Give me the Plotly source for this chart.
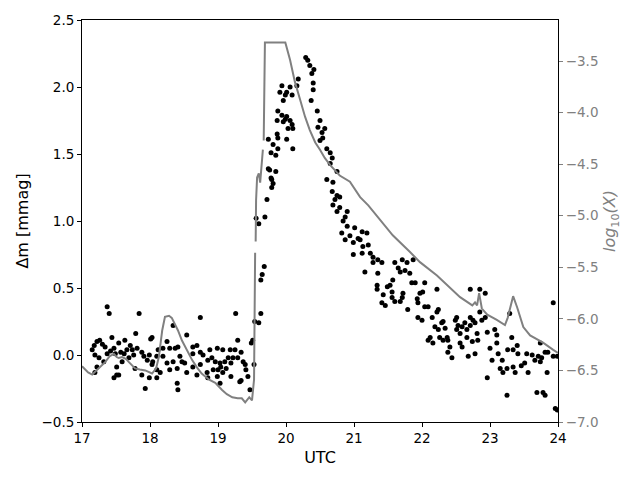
import plotly.graph_objects as go

# Photometric residuals (black dots), hours UTC vs delta magnitude in mmag
utc_hours = [
    # 17h - 18h
    17.15, 17.18, 17.19, 17.19, 17.22, 17.22, 17.25, 17.26, 17.30, 17.32,
    17.34, 17.37, 17.37, 17.40, 17.42, 17.44, 17.47, 17.47, 17.49, 17.51,
    17.51, 17.54, 17.54, 17.57, 17.59, 17.62, 17.63, 17.66, 17.69, 17.71,
    17.74, 17.76, 17.78, 17.79, 17.81, 17.84, 17.88, 17.88, 17.91, 17.93,
    17.96, 17.99, 17.99, 18.01, 18.03,
    # 18h - 19h
    18.03, 18.04, 18.10, 18.10, 18.10, 18.12, 18.15, 18.19, 18.19, 18.25,
    18.25, 18.29, 18.29, 18.34, 18.34, 18.37, 18.40, 18.40, 18.41, 18.41,
    18.44, 18.47, 18.51, 18.54, 18.54, 18.63, 18.63, 18.63, 18.69, 18.69,
    18.74, 18.74, 18.74, 18.78, 18.84, 18.85, 18.85, 18.88, 18.91, 18.93,
    18.96, 18.99, 18.99, 19.00, 19.03, 19.03,
    # 19h - 19.86h
    19.04, 19.07, 19.07, 19.10, 19.12, 19.15, 19.18, 19.19, 19.19, 19.22,
    19.25, 19.26, 19.29, 19.29, 19.32, 19.34, 19.34, 19.37, 19.40, 19.41,
    19.44, 19.47, 19.49, 19.51, 19.53, 19.54, 19.56, 19.60, 19.60, 19.63,
    19.63, 19.65, 19.68, 19.69, 19.72, 19.74, 19.74, 19.76, 19.78, 19.78,
    19.79, 19.79, 19.81, 19.81, 19.85, 19.85,
    # 19.87h - 21.06h
    19.87, 19.87, 19.88, 19.88, 19.88, 19.91, 19.94, 19.94, 19.96, 19.96,
    19.99, 19.99, 20.01, 20.01, 20.01, 20.03, 20.06, 20.06, 20.09, 20.09,
    20.10, 20.10, 20.16, 20.18, 20.29, 20.32, 20.35, 20.37, 20.38, 20.40,
    20.40, 20.41, 20.46, 20.47, 20.50, 20.50, 20.53, 20.54, 20.57, 20.60,
    20.60, 20.65, 20.65, 20.68, 20.68, 20.69, 20.69, 20.72, 20.75, 20.75,
    20.75, 20.79, 20.79, 20.82, 20.84, 20.87, 20.87, 20.90, 20.90, 20.94,
    20.99, 20.99, 21.01, 21.06,
    # 21.09h - 22.44h
    21.09, 21.12, 21.12, 21.13, 21.16, 21.19, 21.21, 21.24, 21.28, 21.28,
    21.34, 21.34, 21.35, 21.35, 21.41, 21.41, 21.43, 21.46, 21.49, 21.53,
    21.56, 21.56, 21.57, 21.60, 21.60, 21.65, 21.68, 21.68, 21.71, 21.71,
    21.72, 21.75, 21.78, 21.79, 21.82, 21.85, 21.87, 21.90, 21.93, 21.94,
    21.94, 21.97, 22.00, 22.01, 22.04, 22.04, 22.09, 22.09, 22.12, 22.15,
    22.16, 22.19, 22.22, 22.22, 22.24, 22.24, 22.26, 22.29, 22.31, 22.31,
    22.34, 22.37, 22.38, 22.38, 22.41, 22.44,
    # 22.49h - 24h
    22.49, 22.51, 22.51, 22.53, 22.56, 22.56, 22.59, 22.59, 22.63, 22.66,
    22.66, 22.68, 22.71, 22.71, 22.71, 22.74, 22.75, 22.78, 22.78, 22.81,
    22.82, 22.85, 22.85, 22.88, 22.93, 22.93, 22.96, 22.96, 23.00, 23.03,
    23.07, 23.10, 23.10, 23.12, 23.15, 23.18, 23.19, 23.25, 23.25, 23.26,
    23.29, 23.32, 23.34, 23.34, 23.37, 23.40, 23.41, 23.46, 23.51, 23.54,
    23.56, 23.62, 23.66, 23.69, 23.71, 23.74, 23.74, 23.76, 23.78, 23.81,
    23.81, 23.84, 23.85, 23.93, 23.93, 23.96, 23.99, 23.99,
]
delta_mmag = [
    # 17h - 18h
    0.04, 0.07, 0.00, -0.13, 0.10, -0.09, -0.02, 0.11, 0.08, -0.05,
    0.06, 0.36, 0.01, 0.31, 0.03, 0.13, 0.05, -0.17, 0.01, -0.09,
    -0.15, 0.09, -0.15, 0.02, -0.05, 0.01, 0.11, 0.04, -0.02, 0.07,
    0.04, 0.00, -0.10, 0.16, 0.05, 0.31, 0.02, -0.15, -0.01, -0.25,
    -0.04, 0.00, -0.17, 0.12, -0.07,
    # 18h - 19h
    0.13, -0.05, -0.01, -0.11, -0.17, 0.04, -0.13, 0.05, -0.01, 0.10,
    -0.06, 0.05, -0.11, 0.22, -0.05, 0.05, -0.10, -0.21, 0.06, -0.26,
    -0.01, -0.05, -0.06, 0.15, -0.13, 0.06, 0.01, -0.09, 0.07, -0.15,
    0.28, 0.02, -0.07, 0.00, -0.13, -0.04, -0.17, 0.04, -0.02, -0.11,
    -0.05, 0.05, -0.16, -0.11, -0.06, -0.21,
    # 19h - 19.86h
    -0.09, 0.04, -0.13, -0.05, -0.10, -0.02, 0.04, -0.06, -0.16, -0.02,
    0.04, 0.31, 0.11, -0.02, -0.20, 0.02, -0.19, -0.05, -0.07, -0.11,
    -0.16, -0.26, 0.09, 0.11, -0.07, 0.25, 1.02, 0.98, 0.24, 0.56,
    0.31, 0.60, 0.66, 1.03, 1.16, 1.61, 1.39, 1.38, 1.51, 1.32,
    1.25, 1.31, 1.28, 1.57, 1.49, 1.37,
    # 19.87h - 21.06h
    1.75, 1.65, 1.82, 1.62, 1.54, 1.96, 2.01, 1.79, 1.90, 1.74,
    1.94, 1.76, 1.96, 1.78, 1.61, 1.69, 2.00, 1.75, 1.94, 1.72,
    1.69, 1.54, 2.01, 2.06, 2.22, 2.20, 2.16, 1.90, 2.10, 2.03,
    1.98, 2.13, 1.82, 1.70, 1.75, 1.60, 1.66, 1.62, 1.69, 1.54,
    1.31, 1.51, 1.43, 1.47, 1.22, 1.29, 1.12, 1.16, 1.37, 1.19,
    1.07, 1.18, 1.10, 0.91, 1.00, 1.03, 0.86, 1.07, 0.96, 0.89,
    0.84, 0.75, 0.95, 0.87,
    # 21.09h - 22.44h
    0.86, 0.92, 0.76, 0.81, 0.62, 0.91, 0.82, 0.76, 0.73, 0.69,
    0.52, 0.49, 0.71, 0.61, 0.69, 0.39, 0.45, 0.37, 0.51, 0.52,
    0.47, 0.43, 0.56, 0.69, 0.40, 0.65, 0.62, 0.40, 0.71, 0.43,
    0.46, 0.63, 0.69, 0.34, 0.61, 0.54, 0.71, 0.54, 0.42, 0.39,
    0.28, 0.46, 0.26, 0.47, 0.54, 0.36, 0.36, 0.11, 0.13, 0.28,
    0.09, 0.21, 0.32, 0.49, 0.34, 0.19, 0.13, 0.24, 0.25, 0.11,
    0.20, 0.13, 0.11, 0.02, 0.06, -0.02,
    # 22.49h - 24h
    0.26, 0.28, 0.19, 0.22, 0.16, 0.09, 0.21, 0.06, 0.24, 0.19,
    0.13, -0.01, 0.22, 0.28, 0.49, 0.10, 0.26, 0.24, 0.01, 0.16,
    0.11, 0.49, 0.32, 0.26, 0.46, 0.28, 0.17, -0.17, 0.05, -0.04,
    0.19, 0.15, 0.09, 0.01, -0.10, -0.04, -0.13, -0.30, -0.10, 0.04,
    0.31, 0.13, 0.04, -0.09, -0.13, 0.07, 0.01, -0.08, -0.06, 0.01,
    -0.13, 0.00, -0.04, -0.28, -0.01, -0.05, 0.09, -0.02, -0.28, -0.30,
    0.02, -0.13, 0.02, 0.39, -0.01, -0.40, -0.01, -0.41,
]

# Gray curve on the right axis: log10(X); None marks gaps in the curve
x_hours = [
    17.00, 17.09, 17.15, 17.21, 17.25, 17.29, 17.34, 17.41, 17.47, 17.51,
    17.54, 17.59, 17.65, 17.69, 17.78, 17.85, 17.93, 18.03, 18.09, 18.13,
    18.18, 18.22, 18.28, 18.32, 18.35, 18.41, 18.47, 18.54, 18.62, 18.69,
    18.76, 18.87, 18.96, 19.06, 19.13, 19.21, 19.29, 19.35, 19.40, 19.46,
    19.50, 19.53, 19.538, 19.542, 19.546, 19.55, 19.554, 19.56, 19.575, 19.60,
    19.62, 19.645, 19.66, 19.665, 19.672, 19.68, 19.69, 19.84, 19.99, 20.06,
    20.13, 20.21, 20.28, 20.35, 20.43, 20.50, 20.57, 20.65, 20.79, 20.94,
    21.09, 21.21, 21.38, 21.57, 21.82, 21.97, 22.22, 22.44, 22.56, 22.74,
    22.78, 22.81, 22.84, 22.88, 22.96, 23.10, 23.22, 23.26, 23.34, 23.40,
    23.49, 23.59, 23.78, 23.93, 24.00,
]
log10_x = [
    -6.46, -6.52, -6.54, -6.50, -6.48, -6.45, -6.42, -6.36, -6.34, -6.37,
    -6.38, -6.37, -6.39, -6.42, -6.48, -6.49, -6.50, -6.53, -6.48, -6.37,
    -6.11, -5.98, -5.97, -5.99, -6.03, -6.11, -6.21, -6.30, -6.40, -6.47,
    -6.53, -6.59, -6.62, -6.69, -6.73, -6.76, -6.77, -6.77, -6.81, -6.76,
    -6.79, -6.59, -6.11, -5.72, -5.36, None, -5.25, -4.85, -4.63, -4.59,
    -4.68, -4.51, -4.36, None, -4.27, -3.78, -3.32, -3.32, -3.32, -3.49,
    -3.70, -3.88, -4.04, -4.17, -4.29, -4.36, -4.44, -4.51, -4.61, -4.67,
    -4.82, -4.90, -5.04, -5.19, -5.35, -5.45, -5.58, -5.72, -5.79, -5.87,
    -5.84, -5.87, -5.75, -5.90, -5.96, -6.01, -6.06, -5.99, -5.78, -5.89,
    -6.08, -6.16, -6.23, -6.30, -6.33,
]

x_ticks = [17, 18, 19, 20, 21, 22, 23, 24]
left_ticks = [-0.5, 0.0, 0.5, 1.0, 1.5, 2.0, 2.5]
right_ticks = [-7.0, -6.5, -6.0, -5.5, -5.0, -4.5, -4.0, -3.5]

FONT = "DejaVu Sans"

fig = go.Figure()
fig.add_trace(go.Scatter(
    x=utc_hours, y=delta_mmag, mode="markers",
    marker=dict(color="black", size=5), yaxis="y", showlegend=False,
))
fig.add_trace(go.Scatter(
    x=x_hours, y=log10_x, mode="lines", connectgaps=False,
    line=dict(color="gray", width=2), yaxis="y2", showlegend=False,
))

# the page body adds an 8px offset, so the figure is 8px smaller than the window
fig.update_layout(
    width=632, height=472,
    margin=dict(l=74, r=74, t=12, b=50),
    paper_bgcolor="white", plot_bgcolor="white",
    font=dict(family=FONT, size=13.5, color="black"),
    xaxis=dict(
        range=[17, 24], tickvals=x_ticks, ticks="outside", ticklen=4,
        tickcolor="black", showline=True, linecolor="black", linewidth=1,
        mirror=True, showgrid=False, zeroline=False, automargin=False,
        title=dict(text="UTC", standoff=6),
    ),
    yaxis=dict(
        range=[-0.5, 2.5], tickvals=left_ticks, tickformat=".1f",
        ticks="outside", ticklen=4, tickcolor="black",
        showline=True, linecolor="black", linewidth=1, mirror=True,
        showgrid=False, zeroline=False, automargin=False,
        title=dict(text="Δm [mmag]", standoff=8),
    ),
    yaxis2=dict(
        range=[-7.0, -3.1025], tickvals=right_ticks, tickformat=".1f",
        overlaying="y", side="right", anchor="x",
        ticks="outside", ticklen=4, tickcolor="gray",
        tickfont=dict(color="gray"), automargin=False,
        showline=False, showgrid=False, zeroline=False,
        title=dict(text="<i>log</i><sub>10</sub><i>(X)</i>",
                   font=dict(color="gray"), standoff=6),
    ),
)
fig.update_layout(margin=dict(l=74, r=82, t=12, b=58))

fig.write_html("out.html")
